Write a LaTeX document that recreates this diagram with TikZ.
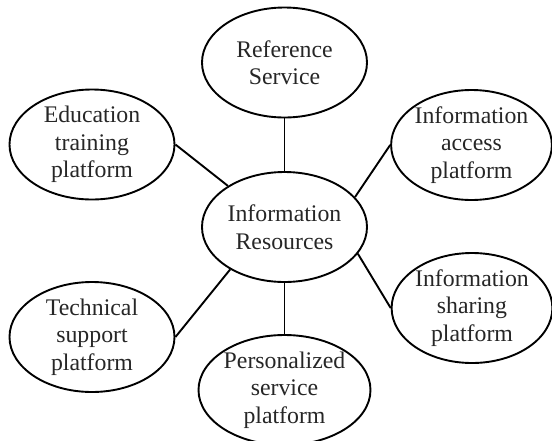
\documentclass[tikz,border=0pt]{standalone}
\usepackage{fontspec}
\setmainfont{Liberation Serif}
\usetikzlibrary{shapes.geometric}
\begin{document}
\begin{tikzpicture}[x=1pt,y=-1pt,
  bubble/.style={ellipse, draw=black, line width=1.9pt, minimum width=165pt, minimum height=110pt, inner sep=0pt, align=center, text=black!85, font=\fontsize{23.8}{27.5}\selectfont},
  rbubble/.style={bubble, minimum width=160pt},
  link/.style={draw=black, line width=1.9pt}]
\useasboundingbox (0,0) rectangle (552,440);
\node[bubble] (c) at (284.5,227) {Information\\Resources};
\node[bubble] (ref) at (284.5,62.5) {Reference\\Service};
\node[bubble] (edu) at (92,144.5) {Education\\training\\platform};
\node[rbubble] (acc) at (471.5,145) {Information\\access\\platform};
\node[rbubble] (shr) at (472,308) {Information\\sharing\\platform};
\node[bubble] (tec) at (92,337) {Technical\\support\\platform};
\node[bubble] (per) at (284.5,390) {Personalized\\service\\platform};
\draw[link] (ref.south) -- (c.north);
\draw[link] (c.south) -- (per.north);
\draw[link] (edu.east) -- (c.144);
\draw[link] (acc.west) -- (c.23);
\draw[link] (shr.west) -- (c.-20);
\draw[link] (tec.east) -- (c.218);
\end{tikzpicture}
\end{document}
